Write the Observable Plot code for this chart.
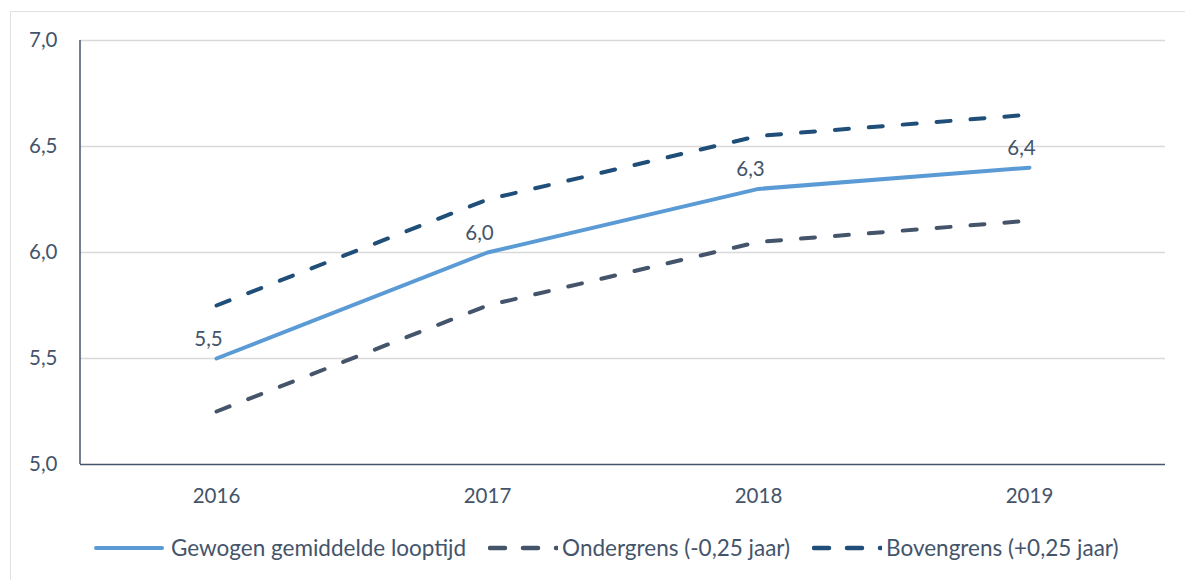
<!DOCTYPE html>
<html>
<head>
<meta charset="utf-8">
<script src="https://cdn.jsdelivr.net/npm/d3@7"></script>
<script src="https://cdn.jsdelivr.net/npm/@observablehq/plot@0.6"></script>
<style>
  html, body { margin: 0; padding: 0; background: #fff; }
  body { width: 1185px; height: 580px; overflow: hidden; position: relative; font-family: Lato, "Open Sans", sans-serif; color: #44546a; }
  #frame { position: absolute; left: 10px; top: 11px; width: 1200px; height: 620px; border: 1.5px solid #e0e0e0; box-sizing: border-box; }
  #chart { position: absolute; left: 0; top: 0; }
  #legend { position: absolute; left: 94px; top: 534px; display: flex; align-items: center; font-size: 22.5px; white-space: nowrap; }
  .item { display: flex; align-items: center; }
  .item svg { display: block; }
</style>
</head>
<body>
<div id="frame"></div>
<div id="chart"></div>
<div id="legend"></div>
<script>
const years = ["2016", "2017", "2018", "2019"];
const gewogen = [5.5, 6.0, 6.3, 6.4];
const ondergrens = [5.25, 5.75, 6.05, 6.15];
const bovengrens = [5.75, 6.25, 6.55, 6.65];
const yTicks = [5.0, 5.5, 6.0, 6.5, 7.0];
const gridValues = [5.5, 6.0, 6.5, 7.0];
const seriesNames = ["Gewogen gemiddelde looptijd", "Ondergrens (-0,25 jaar)", "Bovengrens (+0,25 jaar)"];
const colors = ["#5b9bd5", "#44546a", "#1f4e79"];

const fmt = v => v.toFixed(1).replace(".", ",");
const rows = vals => years.map((year, i) => ({year, value: vals[i]}));
const main = rows(gewogen), low = rows(ondergrens), high = rows(bovengrens);
const textColor = "#44546a";

const chart = Plot.plot({
  width: 1185,
  height: 520,
  marginLeft: 80,
  marginRight: 20,
  marginTop: 40,
  marginBottom: 56,
  style: {fontFamily: "Lato, 'Open Sans', sans-serif", fontSize: "20.5px", color: textColor, background: "transparent"},
  x: {type: "point", domain: years, padding: 0.5, label: null},
  y: {domain: [5, 7], label: null},
  marks: [
    Plot.ruleY(gridValues, {stroke: "#d9d9d9", strokeWidth: 1.5}),
    Plot.ruleY([5], {stroke: textColor, strokeWidth: 1.5}),
    Plot.axisY({ticks: yTicks, tickFormat: fmt, tickSize: 0, tickPadding: 23, fontSize: 20.5, fill: textColor, label: null}),
    Plot.axisX({tickSize: 0, tickPadding: 24, fontSize: 20.5, fill: textColor, label: null}),
    Plot.lineY(low, {x: "year", y: "value", stroke: colors[1], strokeWidth: 4, strokeDasharray: "14,20", strokeLinecap: "round"}),
    Plot.lineY(high, {x: "year", y: "value", stroke: colors[2], strokeWidth: 4, strokeDasharray: "14,20", strokeLinecap: "round"}),
    Plot.lineY(main, {x: "year", y: "value", stroke: colors[0], strokeWidth: 4, strokeLinecap: "round"}),
    Plot.text(main, {x: "year", y: "value", text: d => fmt(d.value), dx: -8, dy: -19, fontSize: 20.5, fill: textColor})
  ]
});
document.getElementById("chart").appendChild(chart);

// left axis line, placed with the chart's own scales
const xr = chart.scale("x").range, yr = chart.scale("y").range;
d3.select(chart).append("line")
  .attr("x1", xr[0]).attr("x2", xr[0])
  .attr("y1", yr[0]).attr("y2", yr[1])
  .attr("stroke", textColor).attr("stroke-width", 1.5);

// legend
const legend = document.getElementById("legend");
const ns = "http://www.w3.org/2000/svg";
const gaps = [[7, 22], [4, 22], [4, 0]];
seriesNames.forEach((name, i) => {
  const item = document.createElement("div");
  item.className = "item";
  item.style.marginRight = gaps[i][1] + "px";
  const svg = document.createElementNS(ns, "svg");
  svg.setAttribute("width", 70);
  svg.setAttribute("height", 10);
  svg.style.marginRight = gaps[i][0] + "px";
  const line = document.createElementNS(ns, "line");
  line.setAttribute("x1", 2); line.setAttribute("x2", i === 0 ? 68 : 69);
  line.setAttribute("y1", 5); line.setAttribute("y2", 5);
  line.setAttribute("stroke", colors[i]);
  line.setAttribute("stroke-width", i === 0 ? 4 : 4.5);
  line.setAttribute("stroke-linecap", "round");
  if (i > 0) line.setAttribute("stroke-dasharray", "15,18");
  svg.appendChild(line);
  item.appendChild(svg);
  const span = document.createElement("span");
  span.textContent = name;
  item.appendChild(span);
  legend.appendChild(item);
});
</script>
</body>
</html>
